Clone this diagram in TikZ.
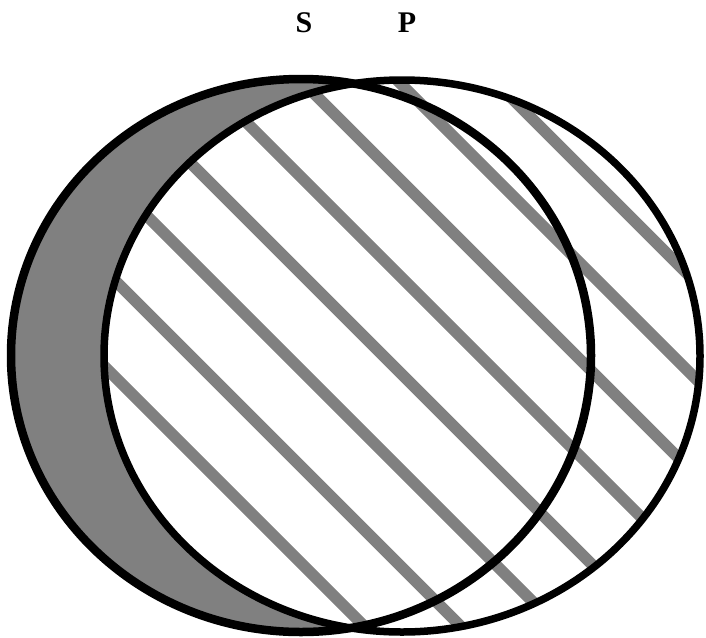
\documentclass[tikz,border=0pt]{standalone}
\usepackage{fontspec}
\setmainfont{Liberation Serif}
\begin{document}
\begin{tikzpicture}[x=1pt, y=-1pt,
		setline/.style={line width=8.5pt, black},
		stripe/.style={line width=11.5pt, gray}]
	\useasboundingbox (0,0) rectangle (706,637);
	% region S outside P
	\fill[gray] (301,355.5) ellipse [x radius=290, y radius=276.5];
	\fill[white] (402,356) ellipse [x radius=298, y radius=276];
	% hatching of P
	\begin{scope}
		\clip (402,356) ellipse [x radius=298, y radius=276];
		\foreach \k in {0,...,7} {
			\pgfmathsetmacro\off{262-96.5*\k}
			\draw[stripe] (0,\off) -- ++(720,720);
		}
	\end{scope}
	% outlines
	\draw[setline] (301,355.5) ellipse [x radius=290, y radius=276.5];
	\draw[setline, line width=7.5pt] (402,356) ellipse [x radius=298, y radius=276];
	\node[inner sep=0pt, font=\fontsize{30}{31}\selectfont\bfseries] (labS) at (304,23) {S};
	\node[inner sep=0pt, font=\fontsize{30}{31}\selectfont\bfseries] (labP) at (407,23) {P};
\end{tikzpicture}
\end{document}
